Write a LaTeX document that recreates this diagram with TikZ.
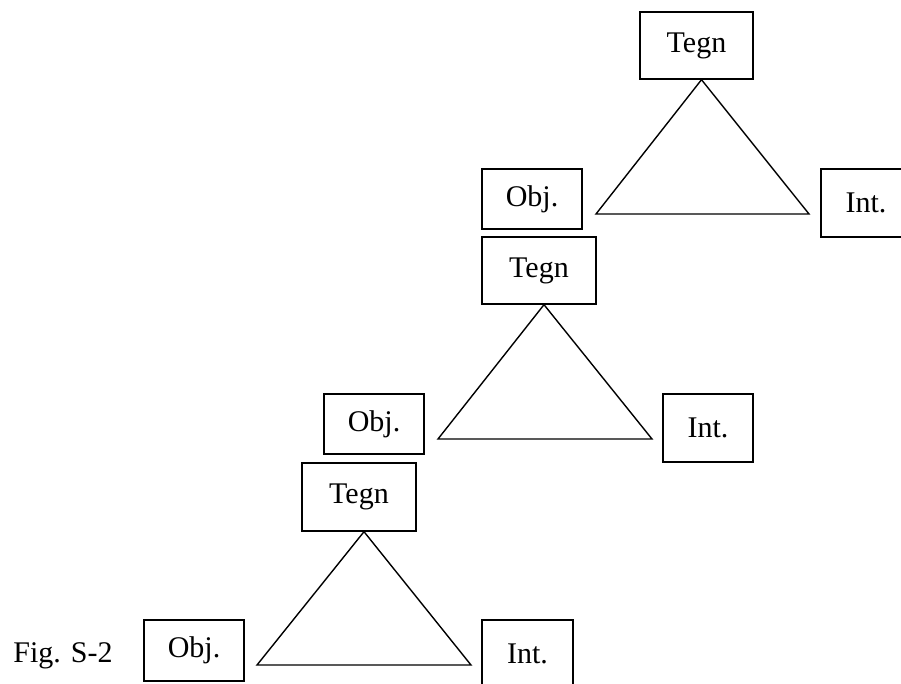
\documentclass[tikz,border=0pt]{standalone}
\usepackage{fontspec}
\setmainfont{Liberation Serif}
\usepackage{tikz}
\usetikzlibrary{positioning,calc}
\tikzstyle{sign} = [draw=black, line width=0.7pt, inner sep=0pt, font=\fontsize{15}{17}\selectfont]
\tikzstyle{tri} = [line width=0.7pt]

\begin{document}
\begin{tikzpicture}[x=0.5pt, y=-0.5pt]
            \useasboundingbox (0,0) rectangle (901,684);
            \node[sign, minimum width=56.5pt, minimum height=33.5pt] (t1) at (696.5,45.5) {Tegn};
            \node[sign, minimum width=50pt, minimum height=30pt] (o1) at (532,199) {Obj.};
            \node[sign, minimum width=45pt, minimum height=34pt] (i1) at (866,203) {Int.};
            \node[sign, minimum width=57pt, minimum height=33.5pt] (t2) at (539,270.5) {Tegn};
            \node[sign, minimum width=50pt, minimum height=30pt] (o2) at (374,424) {Obj.};
            \node[sign, minimum width=45pt, minimum height=34pt] (i2) at (708,428) {Int.};
            \node[sign, minimum width=57pt, minimum height=34pt] (t3) at (359,497) {Tegn};
            \node[sign, minimum width=50pt, minimum height=30.5pt] (o3) at (194,650.5) {Obj.};
            \node[sign, minimum width=45.5pt, minimum height=34pt] (i3) at (527.5,654) {Int.};
            \node[font=\fontsize{15}{17}\selectfont, anchor=base west, inner sep=0pt] (fig) at (13,662) {Fig. S-2};

            \coordinate (a1) at (596,214); \coordinate (b1) at (809,214);
            \coordinate (a2) at (438,439); \coordinate (b2) at (652,439);
            \coordinate (a3) at (257,665); \coordinate (b3) at (471,665);

            \draw[tri] ([xshift=2.5pt]t1.south) -- (a1) -- (b1) -- cycle;
            \draw[tri] ([xshift=2.5pt]t2.south) -- (a2) -- (b2) -- cycle;
            \draw[tri] ([xshift=2.5pt]t3.south) -- (a3) -- (b3) -- cycle;
            \end{tikzpicture}
\end{document}
